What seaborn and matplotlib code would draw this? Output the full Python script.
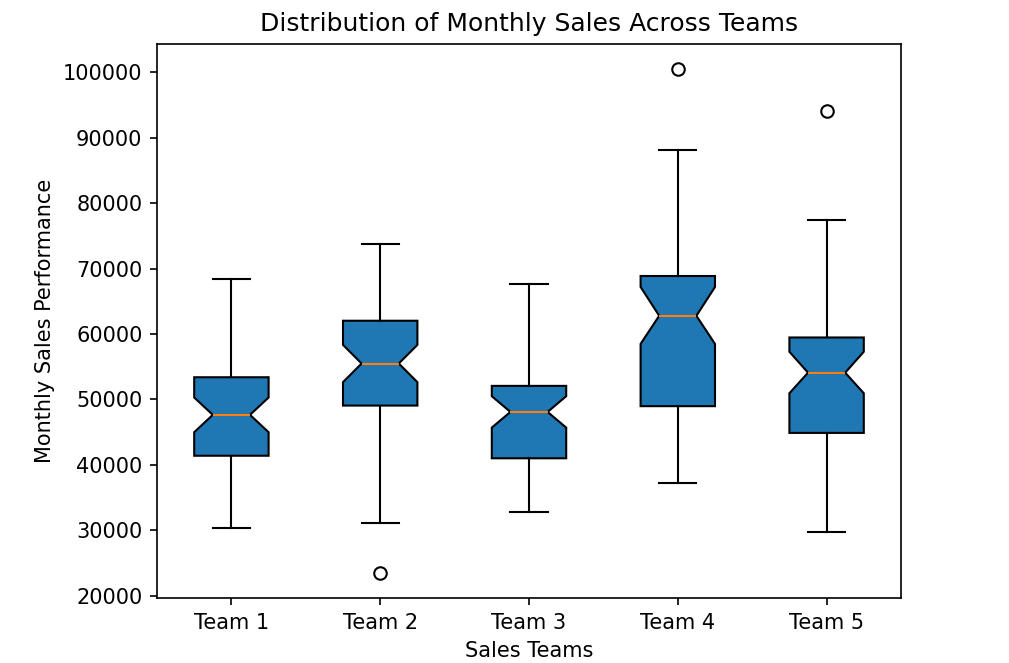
import matplotlib
matplotlib.use("Agg")
import matplotlib.pyplot as plt
import seaborn as sns

teams = ["Team 1", "Team 2", "Team 3", "Team 4", "Team 5"]
whislo = [30400, 31100, 32750, 37300, 29750]
q1 = [41400, 49070, 41010, 48980, 44890]
cilo = [45000, 52650, 45700, 58500, 50950]
med = [47650, 55500, 48100, 62800, 54100]
cihi = [50300, 58350, 50500, 67200, 57300]
q3 = [53400, 62040, 52080, 68880, 59480]
whishi = [68450, 73800, 67600, 88200, 77450]
fliers = [[], [23500], [], [100500], [94150]]

stats = []
for i, t in enumerate(teams):
    stats.append(dict(label=t, whislo=whislo[i], q1=q1[i], med=med[i], q3=q3[i],
                      whishi=whishi[i], cilo=cilo[i], cihi=cihi[i], fliers=fliers[i]))

W, H, dpi = 1009, 663, 150
fig = plt.figure(figsize=(W / dpi, H / dpi), dpi=dpi)
ax = fig.add_axes([157 / W, 1 - 598 / H, (901 - 157) / W, (598 - 44) / H])

face = sns.color_palette("tab10")[0]
ax.bxp(stats, shownotches=True, patch_artist=True,
       boxprops=dict(facecolor=face, edgecolor="black"))

ax.set_title("Distribution of Monthly Sales Across Teams")
ax.set_xlabel("Sales Teams")
ax.set_ylabel("Monthly Sales Performance")

fig.savefig("out.png", dpi=dpi)
